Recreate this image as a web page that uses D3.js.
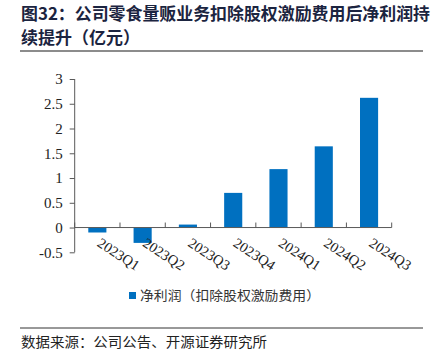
<!DOCTYPE html>
<html><head><meta charset="utf-8">
<script src="https://cdn.jsdelivr.net/npm/d3@7"></script>
<style>body{margin:0;background:#fff}svg{display:block}</style>
</head><body>
<svg id="c" width="444" height="363"></svg>
<script>
const categories = ["2023Q1","2023Q2","2023Q3","2023Q4","2024Q1","2024Q2","2024Q3"];
const values = [-0.10, -0.31, 0.06, 0.70, 1.18, 1.64, 2.62];
const yTicks = [-0.5, 0, 0.5, 1, 1.5, 2, 2.5, 3];
const yTickLabels = ["-0.5","0","0.5","1","1.5","2","2.5","3"];
const seriesName = "净利润（扣除股权激励费用）";
const titleLines = ["图32：公司零食量贩业务扣除股权激励费用后净利润持","续提升（亿元）"];
const sourceText = "数据来源：公司公告、开源证券研究所";

const svg = d3.select("#c");
const cjk = "'Noto Sans CJK SC','Noto Sans',sans-serif";
const serif = "'Liberation Serif','Times New Roman',serif";

// title
svg.append("text").attr("x",21).attr("y",20).attr("font-family",cjk).attr("font-weight","bold")
  .attr("font-size",17).attr("fill","#1b2440").attr("textLength",409).attr("lengthAdjust","spacingAndGlyphs").text(titleLines[0]);
svg.append("text").attr("x",21).attr("y",44).attr("font-family",cjk).attr("font-weight","bold")
  .attr("font-size",17).attr("fill","#1b2440").text(titleLines[1]);
svg.append("line").attr("x1",20).attr("x2",423).attr("y1",51).attr("y2",51).attr("stroke","#666").attr("stroke-width",1.6);

const left = 74.7, right = 391.7;
const x = d3.scaleBand().domain(categories).range([left,right]).paddingInner(0).paddingOuter(0);
const y = d3.scaleLinear().domain([-0.5,3]).range([252.3,79]);

// y axis
const yAxis = d3.axisLeft(y).tickValues(yTicks).tickFormat((d,i)=>yTickLabels[i]).tickSize(5).tickPadding(7);
const gy = svg.append("g").attr("transform",`translate(${left},0)`).call(yAxis);
gy.select(".domain").attr("stroke","#595959").attr("d",`M0,${y(-0.5)}V${y(3)}`);
gy.selectAll(".tick line").attr("stroke","#595959").attr("x2",-5);
gy.selectAll(".tick text").attr("font-family",serif).attr("font-size",15).attr("fill","#222");

// bars
svg.append("g").selectAll("rect").data(values).join("rect")
  .attr("x",(d,i)=>x(categories[i])+x.bandwidth()*0.3)
  .attr("width",x.bandwidth()*0.4)
  .attr("y",d=>y(Math.max(0,d)))
  .attr("height",d=>Math.abs(y(d)-y(0)))
  .attr("fill","#0070c0");

// x axis at zero
const xAxis = d3.axisBottom(x).tickSize(0).tickFormat("");
const gx = svg.append("g").attr("transform",`translate(0,${y(0)})`).call(xAxis);
gx.select(".domain").attr("stroke","#595959").attr("d",`M${left},0H${right}`);
// boundary ticks
const bounds = categories.map(c=>x(c)).concat([right]);
svg.append("g").selectAll("line").data(bounds).join("line")
  .attr("x1",d=>d).attr("x2",d=>d).attr("y1",y(0)).attr("y2",y(0)-5)
  .attr("stroke","#595959");

// x labels
svg.append("g").selectAll("text").data(categories).join("text")
  .attr("transform",d=>`translate(${x(d)+x.bandwidth()/2-1},${y(0)+18}) rotate(33)`)
  .attr("font-family",serif).attr("font-size",14.5).attr("fill","#222").text(d=>d);

// legend
svg.append("rect").attr("x",129).attr("y",292).attr("width",7).attr("height",7).attr("fill","#0070c0");
svg.append("text").attr("x",140).attr("y",300).attr("font-family",cjk).attr("font-size",13)
  .attr("fill","#333").attr("textLength",180).attr("lengthAdjust","spacingAndGlyphs").text(seriesName);

// bottom
svg.append("line").attr("x1",20).attr("x2",423).attr("y1",328).attr("y2",328).attr("stroke","#333").attr("stroke-width",1);
svg.append("text").attr("x",21).attr("y",347).attr("font-family",cjk).attr("font-size",13.5)
  .attr("fill","#222").attr("textLength",246).attr("lengthAdjust","spacingAndGlyphs").text(sourceText);
</script>
</body></html>
